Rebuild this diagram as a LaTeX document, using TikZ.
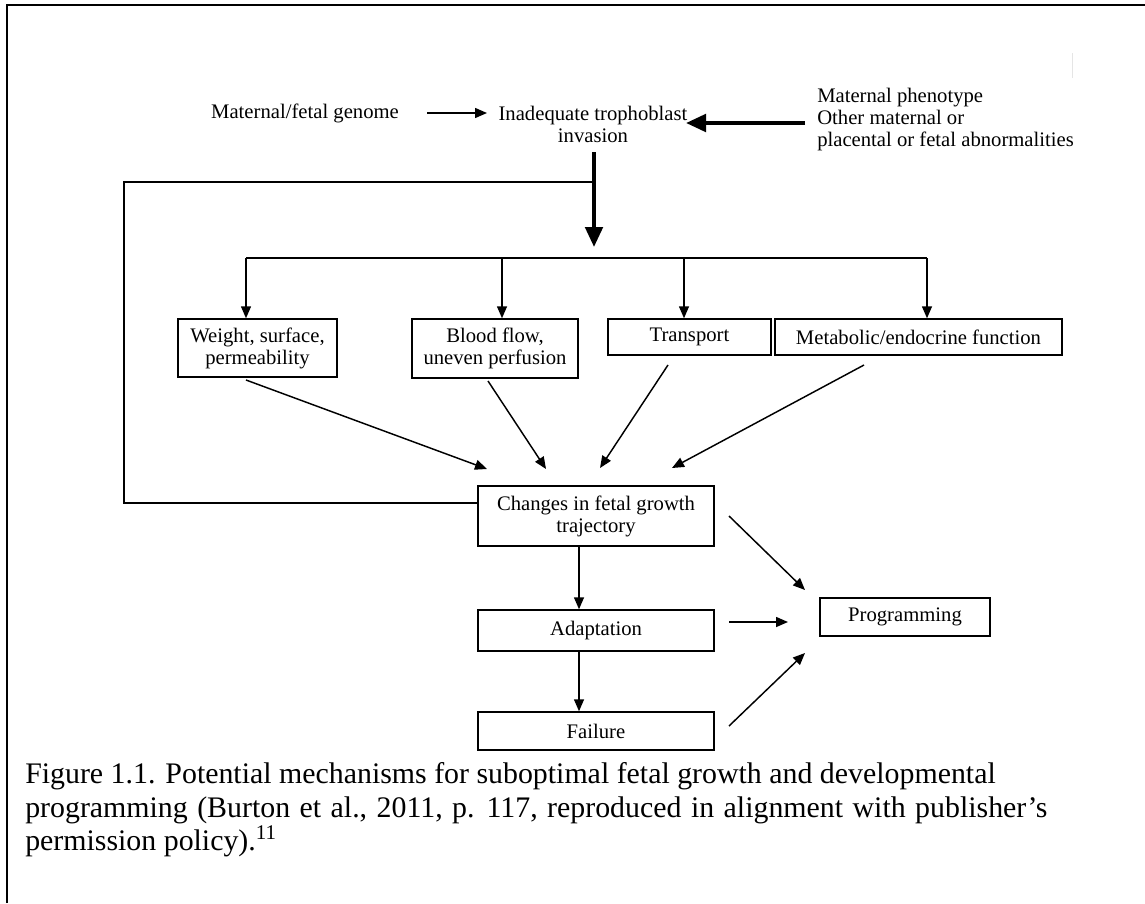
\documentclass[tikz,border=0pt]{standalone}
\usepackage{fontspec}
\setmainfont{Liberation Serif}
\usetikzlibrary{arrows.meta}
\begin{document}
\begin{tikzpicture}[x=0.75pt,y=-0.75pt,
  dfont/.style={font=\fontsize{15.5}{16.5}\selectfont},
  box/.style={draw, line width=1.1pt, inner sep=0pt, dfont, align=center},
  lbl/.style={inner sep=0pt, dfont},
  arr/.style={line width=1.1pt, -{Triangle[length=9pt,width=7.5pt]}},
  bigarr/.style={line width=3pt, -{Triangle[length=15pt,width=13pt]}},
  ln/.style={line width=1.1pt},
  captext/.style={inner sep=0pt, anchor=base west, font=\fontsize{22.4}{26}\selectfont}]
\useasboundingbox (0,0) rectangle (1145,903);
% frame
\draw[line width=2.2pt] (7,903) -- (7,5) -- (1145,5);
\draw[black!10, line width=0.6pt] (1072,53) -- (1072,78);

% top row
\node[lbl] (genome) at (305,113) {Maternal/fetal genome};
\node[lbl, align=center] (invasion) at (593,124) {Inadequate trophoblast\\invasion};
\node[lbl, align=left, anchor=west] (pheno) at (817,120) {Maternal phenotype\\Other maternal or\\placental or fetal abnormalities};
\coordinate (g1) at (427,113);
\coordinate (g2) at (487,113);
\draw[arr] (g1) -- (g2);
\coordinate (p1) at (805,123);
\coordinate (p2) at (686,123);
\draw[bigarr] (p1) -- (p2);

% main vertical
\coordinate (v1) at (594,152);
\coordinate (v2) at (594,247);
\coordinate (vj) at (594,182);
\draw[bigarr] (v1) -- (v2);

% boxes
\node[box, minimum width=159*0.75pt, minimum height=58*0.75pt] (weight) at (257.5,348) {Weight, surface,\\permeability};
\node[box, minimum width=166*0.75pt, minimum height=59*0.75pt] (blood) at (495,348.5) {Blood flow,\\uneven perfusion};
\node[box, minimum width=163*0.75pt, minimum height=36*0.75pt] (transport) at (689.5,337) {Transport};
\node[box, minimum width=287*0.75pt, minimum height=36*0.75pt] (metab) at (918.5,337) {Metabolic/endocrine function};

\node[box, minimum width=236*0.75pt, minimum height=60*0.75pt] (changes) at (596,516) {Changes in fetal growth\\trajectory};
\node[box, minimum width=236*0.75pt, minimum height=41*0.75pt] (adapt) at (596,630.5) {Adaptation};
\node[box, minimum width=236*0.75pt, minimum height=38*0.75pt] (failure) at (596,731) {Failure};
\node[box, minimum width=170*0.75pt, minimum height=38*0.75pt] (prog) at (905,617) {Programming};

% distribution line
\coordinate (d1) at (246,258);
\coordinate (d2) at (502,258);
\coordinate (d3) at (684,258);
\coordinate (d4) at (927,258);
\draw[ln] (d1) -- (d4);
\draw[arr] (d1) -- (d1 |- weight.north);
\draw[arr] (d2) -- (d2 |- blood.north);
\draw[arr] (d3) -- (d3 |- transport.north);
\draw[arr] (d4) -- (d4 |- metab.north);

% loop line
\coordinate (lp1) at (124,182);
\coordinate (lp2) at (124,503);
\draw[ln] (vj) -- (lp1) -- (lp2) -- (lp2 -| changes.west);

% diagonal arrows into changes
\coordinate (w1) at (246,380);
\coordinate (w2) at (487,469);
\coordinate (b1) at (488,381);
\coordinate (b2) at (546,469);
\coordinate (t1) at (668,365);
\coordinate (t2) at (600,468);
\coordinate (m1) at (864,365);
\coordinate (m2) at (672,468);
\draw[arr] (w1) -- (w2);
\draw[arr] (b1) -- (b2);
\draw[arr] (t1) -- (t2);
\draw[arr] (m1) -- (m2);

% vertical chain
\coordinate (c1) at (579,546);
\coordinate (a1) at (579,651);
\draw[arr] (c1) -- (c1 |- adapt.north);
\draw[arr] (a1) -- (a1 |- failure.north);

% to programming
\coordinate (x1) at (729,516);
\coordinate (x2) at (805,590);
\coordinate (y1) at (729,622);
\coordinate (y2) at (788,622);
\coordinate (z1) at (729,726);
\coordinate (z2) at (805,653);
\draw[arr] (x1) -- (x2);
\draw[arr] (y1) -- (y2);
\draw[arr] (z1) -- (z2);

% caption
\node[captext] (cap1) at (25,783) {Figure 1.1. Potential mechanisms for suboptimal fetal growth and developmental};
\node[captext] (cap2) at (25,817) {\spaceskip=7.1pt\relax programming (Burton et al., 2011, p. 117, reproduced in alignment with publisher’s};
\node[captext] (cap3) at (25,850) {permission policy).\textsuperscript{11}};
\end{tikzpicture}
\end{document}
